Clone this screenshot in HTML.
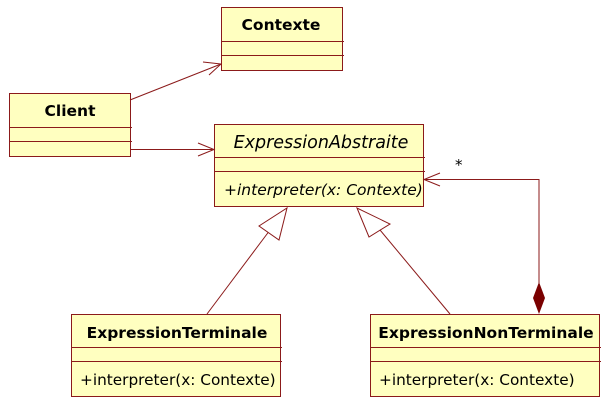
<!DOCTYPE html>
<html><head><style>
body{margin:0;background:#fff;}
svg text{font-family:"DejaVu Sans","Liberation Sans",sans-serif;fill:#000;}
</style></head><body>
<svg width="612" height="407" viewBox="0 0 612 407" xmlns="http://www.w3.org/2000/svg">
<g stroke="#8b1a1a" stroke-width="1" fill="#ffffc0">
<rect x="221.5" y="7.5" width="121" height="63"/>
<line x1="221" y1="41.5" x2="344" y2="41.5"/><line x1="221" y1="55.5" x2="344" y2="55.5"/>
<rect x="9.5" y="93.5" width="121" height="63"/>
<line x1="9" y1="127.5" x2="132" y2="127.5"/><line x1="9" y1="141.5" x2="132" y2="141.5"/>
<rect x="214.5" y="124.5" width="209" height="82"/>
<line x1="214" y1="157.5" x2="425" y2="157.5"/><line x1="214" y1="171.5" x2="425" y2="171.5"/>
<rect x="71.5" y="314.5" width="209" height="82"/>
<line x1="71" y1="347.5" x2="282" y2="347.5"/><line x1="71" y1="361.5" x2="282" y2="361.5"/>
<rect x="370.5" y="314.5" width="229" height="82"/>
<line x1="370" y1="347.5" x2="601" y2="347.5"/><line x1="370" y1="361.5" x2="601" y2="361.5"/>
</g>
<g stroke="#8b1a1a" stroke-width="1" fill="none">
<line x1="130" y1="100" x2="221" y2="64"/>
<polyline points="203,62 221,64 209,75"/>
<line x1="130" y1="149.5" x2="214" y2="149.5"/>
<polyline points="198,143 214,149.5 198,156"/>
<line x1="207" y1="314" x2="270" y2="230"/>
<polygon points="287,208 279,240 259,226" fill="#fff"/>
<line x1="450" y1="314" x2="380" y2="230"/>
<polygon points="357,208 369,237 390,224" fill="#fff"/>
<polyline points="539,283 539,179.5 423,179.5"/>
<polyline points="440,173 424,179.5 440,186"/>
</g>
<polygon points="539,282 545,298 539,314 533,298" fill="#7a0000"/>
<text x="281" y="30" font-size="15.5" font-weight="bold" text-anchor="middle">Contexte</text>
<text x="70" y="116" font-size="15.5" font-weight="bold" text-anchor="middle">Client</text>
<text x="321" y="148" font-size="17.5" font-style="italic" text-anchor="middle">ExpressionAbstraite</text>
<text x="224" y="195" font-size="15.5" font-style="italic">+interpreter(x: Contexte)</text>
<text x="455" y="170" font-size="15">*</text>
<text x="177" y="338" font-size="15.5" font-weight="bold" text-anchor="middle">ExpressionTerminale</text>
<text x="80" y="385" font-size="15.3">+interpreter(x: Contexte)</text>
<text x="486" y="338" font-size="15.5" font-weight="bold" text-anchor="middle">ExpressionNonTerminale</text>
<text x="379" y="385" font-size="15.3">+interpreter(x: Contexte)</text>
</svg>
</body></html>
